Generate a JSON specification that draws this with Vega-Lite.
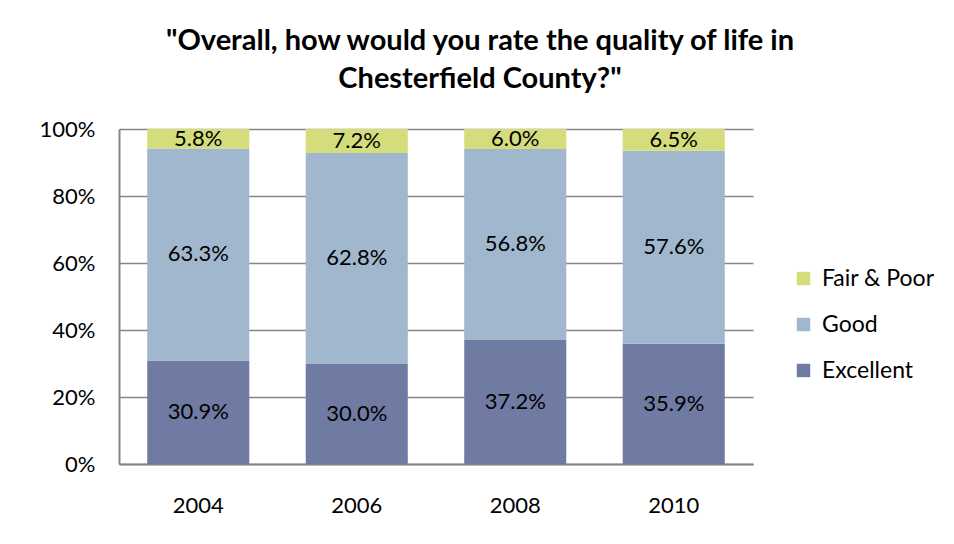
{
  "$schema": "https://vega.github.io/schema/vega-lite/v6.json",
  "width": 634,
  "height": 335,
  "autosize": "none",
  "padding": {"left": 119, "top": 129, "right": 201, "bottom": 80},
  "background": "white",
  "config": {"font": "Lato", "view": {"stroke": null}},
  "title": {
    "text": ["\"Overall, how would you rate the quality of life in", "Chesterfield County?\""],
    "fontSize": 29,
    "fontWeight": "bold",
    "color": "#000000",
    "anchor": "middle",
    "dx": 44,
    "offset": 24,
    "lineHeight": 38
  },
  "data": {
    "values": [
      {"year": "2004", "rating": "Excellent", "pct": 30.9},
      {"year": "2004", "rating": "Good", "pct": 63.3},
      {"year": "2004", "rating": "Fair & Poor", "pct": 5.8},
      {"year": "2006", "rating": "Excellent", "pct": 30.0},
      {"year": "2006", "rating": "Good", "pct": 62.8},
      {"year": "2006", "rating": "Fair & Poor", "pct": 7.2},
      {"year": "2008", "rating": "Excellent", "pct": 37.2},
      {"year": "2008", "rating": "Good", "pct": 56.8},
      {"year": "2008", "rating": "Fair & Poor", "pct": 6.0},
      {"year": "2010", "rating": "Excellent", "pct": 35.9},
      {"year": "2010", "rating": "Good", "pct": 57.6},
      {"year": "2010", "rating": "Fair & Poor", "pct": 6.5}
    ]
  },
  "transform": [
    {"calculate": "datum.rating === 'Excellent' ? 1 : datum.rating === 'Good' ? 2 : 3", "as": "ord"},
    {"stack": "pct", "groupby": ["year"], "sort": [{"field": "ord", "order": "ascending"}], "as": ["y0", "y1"]},
    {"calculate": "(datum.y0 + datum.y1) / 2", "as": "ymid"},
    {"calculate": "format(datum.pct, '.1f') + '%'", "as": "label"}
  ],
  "encoding": {
    "x": {
      "field": "year",
      "type": "ordinal",
      "scale": {"paddingInner": 0.356, "paddingOuter": 0.178},
      "axis": {
        "title": null,
        "labelAngle": 0,
        "labelFontSize": 22,
        "labelColor": "#000000",
        "labelPadding": 31,
        "ticks": false,
        "domainColor": "#868686",
        "domainWidth": 2
      }
    }
  },
  "layer": [
    {
      "mark": {"type": "bar"},
      "encoding": {
        "y": {
          "field": "y0",
          "type": "quantitative",
          "scale": {"domain": [0, 100]},
          "axis": {
            "title": null,
            "values": [0, 20, 40, 60, 80, 100],
            "labelExpr": "datum.value + '%'",
            "labelFontSize": 22,
            "labelColor": "#000000",
            "labelPadding": 24,
            "ticks": false,
            "grid": true,
            "gridColor": "#868686",
            "gridWidth": 1.5,
            "domainColor": "#868686",
            "domainWidth": 2
          }
        },
        "y2": {"field": "y1"},
        "color": {
          "field": "rating",
          "type": "nominal",
          "scale": {
            "domain": ["Fair & Poor", "Good", "Excellent"],
            "range": ["#d4dc7c", "#a0b7cd", "#707ba3"]
          },
          "legend": {
            "title": null,
            "orient": "none",
            "legendX": 673,
            "legendY": 138,
            "symbolType": "square",
            "symbolSize": 180,
            "symbolStrokeWidth": 0,
            "labelFontSize": 23,
            "labelColor": "#000000",
            "labelOffset": 7,
            "rowPadding": 22
          }
        }
      }
    },
    {
      "mark": {"type": "text", "fontSize": 22, "color": "#000000", "baseline": "middle"},
      "encoding": {
        "y": {"field": "ymid", "type": "quantitative"},
        "text": {"field": "label", "type": "nominal"}
      }
    }
  ]
}
